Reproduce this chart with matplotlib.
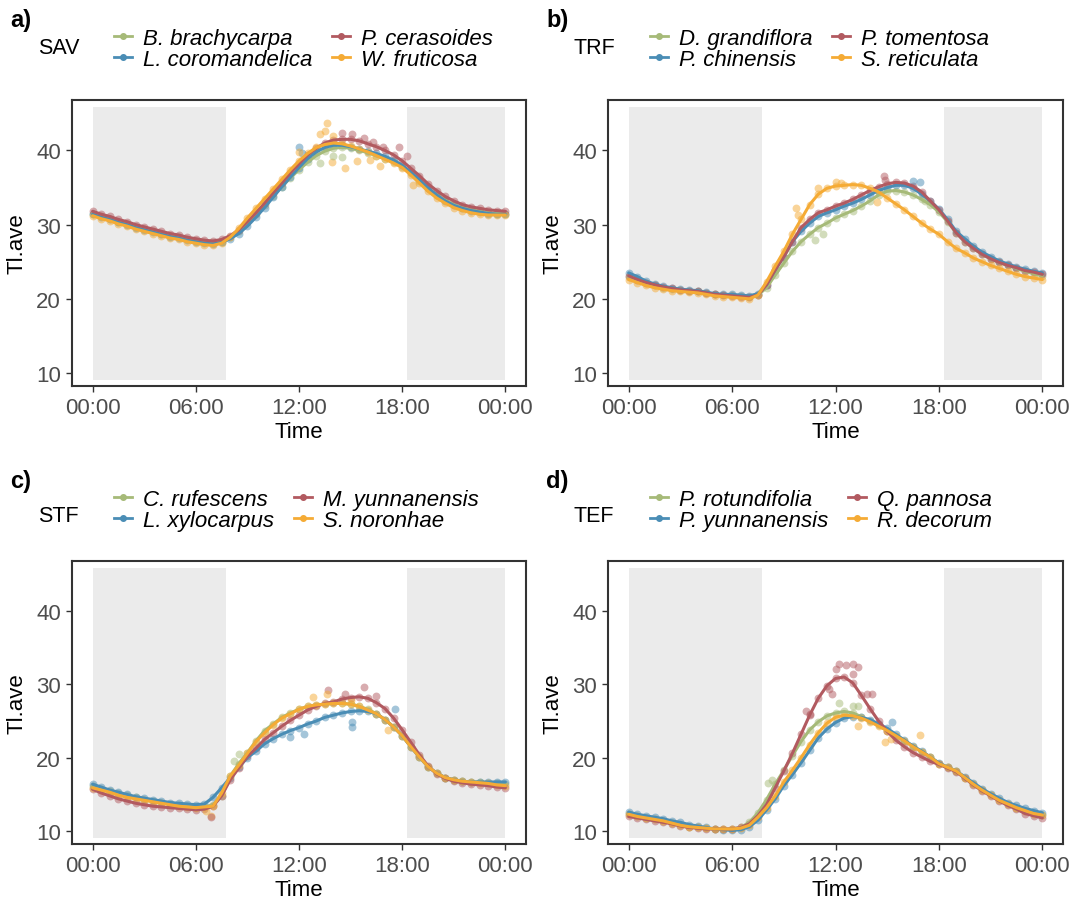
import numpy as np
import matplotlib
matplotlib.use('Agg')
import matplotlib.pyplot as plt
from matplotlib.lines import Line2D

plt.rcParams['font.family'] = ['Liberation Sans', 'DejaVu Sans']

W, H = 1075, 903
colors = ['#A6BA78', '#4A8DB5', '#B25A60', '#F5AB35']

# half-hourly time axis, 00:00 .. 24:00
hours = np.arange(0, 24.5, 0.5)

# ---- a) SAV ----
sav_names = ['B. brachycarpa', 'L. coromandelica', 'P. cerasoides', 'W. fruticosa']
b_brachycarpa = [31.5, 31.1, 30.8, 30.4, 30.1, 29.7, 29.4, 29.1, 28.8, 28.5, 28.3, 28.0, 27.8, 27.6, 27.5, 27.7,
                 28.3, 29.2, 30.3, 31.5, 32.7, 33.9, 35.1, 36.3, 37.4, 38.4, 39.3, 39.9, 40.3, 40.4, 40.3, 40.0,
                 39.7, 39.3, 38.9, 38.4, 37.8, 36.9, 35.9, 34.9, 34.0, 33.3, 32.7, 32.3, 32.0, 31.8, 31.6, 31.5, 31.5]
l_coromandelica = [31.4, 31.0, 30.7, 30.3, 30.0, 29.6, 29.3, 29.0, 28.7, 28.4, 28.2, 27.9, 27.7, 27.5, 27.4, 27.6,
                   28.1, 28.8, 29.8, 31.0, 32.3, 33.7, 35.1, 36.4, 37.7, 38.9, 39.8, 40.4, 40.7, 40.7, 40.5, 40.2,
                   39.9, 39.6, 39.2, 38.7, 38.0, 37.1, 36.1, 35.0, 34.0, 33.2, 32.6, 32.2, 31.9, 31.7, 31.5, 31.4, 31.4]
p_cerasoides = [31.8, 31.4, 31.1, 30.7, 30.4, 30.0, 29.7, 29.4, 29.1, 28.8, 28.6, 28.3, 28.1, 27.9, 27.8, 28.0,
                28.5, 29.3, 30.4, 31.6, 32.9, 34.3, 35.6, 37.0, 38.2, 39.4, 40.3, 41.0, 41.4, 41.5, 41.5, 41.3,
                40.9, 40.5, 40.0, 39.4, 38.6, 37.6, 36.6, 35.5, 34.6, 33.8, 33.2, 32.7, 32.4, 32.2, 32.0, 31.9, 31.8]
w_fruticosa = [31.2, 30.8, 30.5, 30.1, 29.8, 29.4, 29.1, 28.8, 28.5, 28.2, 28.0, 27.7, 27.5, 27.3, 27.2, 27.5,
               28.3, 29.5, 30.9, 32.2, 33.5, 34.8, 36.1, 37.4, 38.6, 39.6, 40.4, 40.8, 41.0, 40.9, 40.6, 40.2,
               39.8, 39.3, 38.8, 38.3, 37.7, 36.7, 35.6, 34.5, 33.6, 32.9, 32.3, 31.9, 31.6, 31.4, 31.3, 31.3, 31.3]
# scattered observations off the smooth curves: (hour, value, species index)
sav_extra = [(13.2, 42.2, 3), (13.6, 43.7, 3), (13.5, 42.6, 3), (14.0, 42.0, 3), (14.7, 37.7, 3), (15.4, 38.6, 3),
             (16.1, 38.7, 3), (16.7, 37.9, 3), (13.9, 38.5, 3), (15.1, 42.2, 2), (15.8, 41.7, 2), (16.3, 41.2, 2),
             (16.9, 40.5, 2), (17.8, 40.4, 2), (18.3, 39.3, 2), (14.5, 42.4, 2), (12.0, 40.4, 1), (12.2, 39.7, 1),
             (14.0, 39.3, 0), (14.5, 39.1, 0), (13.2, 38.3, 0), (18.6, 35.4, 3), (12.0, 39.8, 3)]

# ---- b) TRF ----
trf_names = ['D. grandiflora', 'P. chinensis', 'P. tomentosa', 'S. reticulata']
d_grandiflora = [23.0, 22.5, 22.1, 21.8, 21.5, 21.3, 21.2, 21.1, 21.0, 20.8, 20.6, 20.5, 20.5, 20.4, 20.3, 20.5,
                 21.5, 23.2, 24.8, 26.4, 27.7, 28.7, 29.6, 30.2, 30.9, 31.4, 31.9, 32.5, 33.2, 34.0, 34.5, 34.6,
                 34.4, 34.0, 33.4, 32.7, 31.7, 30.4, 28.9, 27.7, 26.8, 26.0, 25.4, 24.9, 24.5, 24.1, 23.7, 23.4, 23.1]
p_chinensis = [23.5, 23.0, 22.4, 22.0, 21.7, 21.5, 21.3, 21.2, 21.1, 20.9, 20.7, 20.6, 20.6, 20.5, 20.4, 20.7,
               21.9, 23.9, 25.7, 27.7, 29.1, 30.2, 31.1, 31.6, 32.0, 32.5, 32.9, 33.4, 34.0, 34.6, 35.0, 35.3,
               35.3, 34.9, 34.1, 33.2, 32.1, 30.7, 29.1, 28.1, 27.1, 26.3, 25.7, 25.1, 24.7, 24.3, 24.0, 23.7, 23.5]
p_tomentosa = [23.1, 22.6, 22.2, 21.9, 21.6, 21.4, 21.2, 21.1, 21.0, 20.8, 20.6, 20.5, 20.4, 20.3, 20.2, 20.5,
               21.9, 23.9, 25.7, 27.7, 29.6, 30.7, 31.6, 32.0, 32.5, 32.9, 33.4, 34.0, 34.6, 35.1, 35.5, 35.7,
               35.6, 35.2, 34.4, 33.2, 32.0, 30.5, 28.9, 27.7, 26.8, 26.0, 25.4, 24.9, 24.5, 24.2, 23.8, 23.6, 23.3]
s_reticulata = [22.6, 22.2, 21.8, 21.5, 21.3, 21.1, 21.0, 20.9, 20.8, 20.6, 20.4, 20.3, 20.2, 20.1, 20.0, 20.5,
                22.3, 24.4, 26.4, 28.7, 30.7, 32.7, 34.1, 34.9, 35.2, 35.3, 35.4, 35.3, 34.9, 34.4, 33.6, 32.8,
                32.0, 31.1, 30.2, 29.4, 28.7, 27.7, 26.8, 26.2, 25.5, 25.0, 24.5, 24.1, 23.7, 23.3, 23.0, 22.8, 22.6]
trf_extra = [(14.8, 36.5, 2), (14.9, 36.0, 2), (16.9, 35.8, 1), (16.5, 35.9, 1), (9.7, 32.3, 3), (9.8, 31.3, 3),
             (12.3, 35.6, 3), (11.0, 34.9, 3), (10.8, 27.9, 0), (11.3, 28.8, 0), (12.0, 35.7, 3), (14.4, 33.0, 3),
             (17.2, 33.2, 0)]

# ---- c) STF ----
stf_names = ['C. rufescens', 'L. xylocarpus', 'M. yunnanensis', 'S. noronhae']
c_rufescens = [16.1, 15.8, 15.5, 15.2, 14.9, 14.6, 14.3, 14.1, 13.9, 13.7, 13.5, 13.4, 13.3, 13.3, 13.6, 14.8,
               17.5, 19.2, 20.7, 22.3, 23.7, 24.6, 25.5, 26.1, 26.6, 27.0, 27.2, 27.3, 27.4, 27.4, 27.3, 27.0,
               26.6, 26.0, 25.2, 24.2, 23.0, 21.5, 20.1, 18.8, 17.9, 17.3, 17.0, 16.8, 16.7, 16.7, 16.6, 16.5, 16.4]
l_xylocarpus = [16.4, 16.0, 15.6, 15.3, 15.0, 14.7, 14.5, 14.3, 14.1, 13.9, 13.8, 13.7, 13.6, 13.7, 14.6, 15.9,
                17.3, 18.7, 20.0, 20.9, 21.9, 22.6, 23.2, 23.7, 24.1, 24.6, 25.0, 25.5, 25.8, 26.1, 26.3, 26.4,
                26.3, 26.0, 25.2, 24.2, 23.0, 21.5, 20.1, 18.8, 17.9, 17.3, 17.0, 16.8, 16.7, 16.7, 16.7, 16.7, 16.7]
m_yunnanensis = [15.7, 15.2, 14.8, 14.4, 14.1, 13.8, 13.6, 13.4, 13.3, 13.2, 13.1, 13.0, 12.9, 13.0, 13.4, 14.8,
                 17.0, 18.6, 20.2, 21.3, 22.5, 23.4, 24.3, 25.1, 25.8, 26.5, 27.0, 27.4, 27.6, 28.0, 28.2, 28.3,
                 28.1, 27.5, 26.7, 25.4, 23.8, 22.1, 20.4, 18.9, 17.8, 17.2, 16.8, 16.6, 16.4, 16.3, 16.2, 16.0, 15.9]
s_noronhae = [15.9, 15.6, 15.3, 14.9, 14.6, 14.4, 14.2, 14.0, 13.8, 13.6, 13.4, 13.3, 13.2, 13.3, 13.4, 15.2,
              17.5, 19.0, 20.6, 22.2, 23.4, 24.5, 25.4, 26.0, 26.6, 27.0, 27.2, 27.3, 27.4, 27.4, 27.3, 27.0,
              26.5, 26.0, 25.2, 24.2, 23.0, 21.5, 20.1, 18.8, 17.9, 17.3, 17.0, 16.8, 16.7, 16.6, 16.5, 16.3, 16.2]
stf_extra = [(13.7, 29.2, 2), (15.8, 29.6, 2), (14.7, 28.7, 2), (16.5, 28.4, 2), (15.1, 24.2, 1), (15.1, 24.9, 1),
             (17.6, 26.7, 1), (17.2, 23.8, 3), (15.0, 27.8, 3), (12.8, 28.3, 3), (13.6, 28.7, 3), (8.2, 19.5, 0),
             (8.5, 20.5, 0), (6.9, 12.1, 3), (6.6, 12.8, 3), (6.9, 11.9, 2), (11.5, 22.8, 1), (12.3, 23.3, 1)]

# ---- d) TEF ----
tef_names = ['P. rotundifolia', 'P. yunnanensis', 'Q. pannosa', 'R. decorum']
p_rotundifolia = [12.3, 12.0, 11.8, 11.6, 11.4, 11.1, 10.8, 10.6, 10.5, 10.4, 10.3, 10.3, 10.3, 10.5, 11.2, 12.5,
                  14.3, 16.4, 18.3, 20.3, 22.2, 23.8, 24.9, 25.7, 26.1, 26.3, 26.1, 25.6, 25.0, 24.4, 23.7, 23.0,
                  22.3, 21.5, 20.8, 20.1, 19.2, 18.7, 18.2, 17.3, 16.4, 15.6, 14.9, 14.2, 13.7, 13.2, 12.8, 12.4, 12.2]
p_yunnanensis = [12.6, 12.3, 12.1, 11.9, 11.7, 11.4, 11.2, 10.9, 10.7, 10.5, 10.3, 10.2, 10.1, 10.2, 10.6, 11.5,
                 12.9, 14.4, 16.2, 17.7, 19.3, 21.0, 22.7, 23.9, 24.8, 25.4, 25.6, 25.5, 25.2, 24.6, 24.0, 23.2,
                 22.4, 21.6, 20.9, 20.1, 19.3, 18.7, 18.2, 17.4, 16.6, 15.8, 15.1, 14.5, 13.9, 13.5, 13.1, 12.8, 12.5]
q_pannosa = [12.0, 11.8, 11.6, 11.4, 11.2, 11.0, 10.7, 10.5, 10.4, 10.3, 10.3, 10.3, 10.3, 10.5, 11.0, 12.1,
             13.6, 15.9, 18.2, 20.6, 23.2, 25.8, 28.1, 29.8, 30.8, 31.0, 30.2, 28.5, 26.7, 25.0, 23.6, 22.4,
             21.5, 20.7, 20.1, 19.5, 19.1, 18.6, 18.1, 17.2, 16.3, 15.5, 14.8, 14.1, 13.5, 13.0, 12.4, 12.1, 11.8]
r_decorum = [12.3, 12.0, 11.8, 11.6, 11.4, 11.1, 10.8, 10.6, 10.5, 10.4, 10.3, 10.3, 10.3, 10.4, 10.8, 11.9,
             13.2, 14.8, 16.7, 18.3, 20.0, 21.8, 23.4, 24.7, 25.5, 25.8, 25.7, 25.4, 24.9, 24.3, 23.7, 23.0,
             22.3, 21.5, 20.8, 20.1, 19.2, 18.7, 18.2, 17.3, 16.4, 15.6, 14.9, 14.2, 13.7, 13.2, 12.8, 12.4, 12.2]
tef_extra = [(12.2, 32.8, 2), (12.6, 32.6, 2), (13.0, 32.8, 2), (13.3, 32.4, 2), (12.0, 32.1, 2), (11.8, 28.7, 2),
             (11.6, 29.4, 2), (10.3, 26.3, 2), (10.5, 25.9, 2), (13.8, 28.7, 2), (14.1, 28.7, 2), (13.0, 31.4, 2),
             (12.2, 27.4, 0), (13.0, 27.0, 0), (13.3, 27.1, 0), (8.3, 17.0, 0), (8.1, 16.6, 0), (14.9, 22.2, 3),
             (15.2, 22.6, 3), (16.9, 23.1, 3), (15.3, 24.9, 1), (13.3, 24.3, 3)]

night_spans = [(0, 7.75), (18.3, 24)]
shade_lo, shade_hi = 9.0, 45.9

xticks = [0, 6, 12, 18, 24]
xticklabels = ['00:00', '06:00', '12:00', '18:00', '00:00']
yticks = [10, 20, 30, 40]


def fx(px):
    return px / W


def fy(py):
    return 1 - py / H


fig = plt.figure(figsize=(W / 100, H / 100), dpi=100)

panels = [
    # letter, group, names, series, extra, axes box (left, top, right, bottom in px), group label position
    ('a)', 'SAV', sav_names, [b_brachycarpa, l_coromandelica, p_cerasoides, w_fruticosa], sav_extra,
     (72, 101, 526, 387), 'mid'),
    ('b)', 'TRF', trf_names, [d_grandiflora, p_chinensis, p_tomentosa, s_reticulata], trf_extra,
     (608, 101, 1063, 387), 'mid'),
    ('c)', 'STF', stf_names, [c_rufescens, l_xylocarpus, m_yunnanensis, s_noronhae], stf_extra,
     (72, 562, 526, 845), 'low'),
    ('d)', 'TEF', tef_names, [p_rotundifolia, p_yunnanensis, q_pannosa, r_decorum], tef_extra,
     (608, 562, 1063, 845), 'low'),
]

for letter, group, names, series, extra, box, gpos in panels:
    l, t, r, b = box
    ax = fig.add_axes([fx(l), fy(b), (r - l) / W, (b - t) / H])

    for x0, x1 in night_spans:
        ax.fill_between([x0, x1], shade_lo, shade_hi, color='#EBEBEB', lw=0, zorder=0)

    for i, vals in enumerate(series):
        ax.scatter(hours, vals, s=32, color=colors[i], alpha=0.5, lw=0, zorder=2)
    for h, v, i in extra:
        ax.scatter([h], [v], s=32, color=colors[i], alpha=0.5, lw=0, zorder=2)
    for i, vals in enumerate(series):
        ax.plot(hours, vals, color=colors[i], lw=2.2, zorder=3, solid_capstyle='round')

    ax.set_xlim(-1.2, 25.2)
    ax.set_ylim(8.25, 46.8)
    ax.set_xticks(xticks)
    ax.set_xticklabels(xticklabels)
    ax.set_yticks(yticks)
    for sp in ax.spines.values():
        sp.set_color('#333333')
        sp.set_linewidth(1.5)
    ax.tick_params(length=4, width=1, color='#333333', labelcolor='#4D4D4D', labelsize=16, pad=4)
    ax.set_xlabel('Time', fontsize=16, labelpad=2)
    ax.set_ylabel('Tl.ave', fontsize=16, labelpad=6)

    # header: panel letter, forest type, species legend
    top = t - 101
    fig.text(fx(l - 62), fy(top + 21), letter, fontsize=17, fontweight='bold', va='center', ha='left')
    gy = top + 48 if gpos == 'mid' else top + 56
    fig.text(fx(l - 34), fy(gy), group, fontsize=15.5, va='center', ha='left')
    handles = [Line2D([], [], color=colors[i], lw=2, marker='o', ms=4) for i in range(4)]
    ax.legend(handles, names, ncol=2, loc='upper left',
              bbox_to_anchor=(fx(l + 42), fy(top + 29)), bbox_transform=fig.transFigure,
              frameon=False, prop={'style': 'italic', 'size': 16},
              handlelength=0.8, handletextpad=0.5, columnspacing=0.9,
              labelspacing=-0.02, borderpad=0, borderaxespad=0)

fig.savefig('out.png', dpi=100)
